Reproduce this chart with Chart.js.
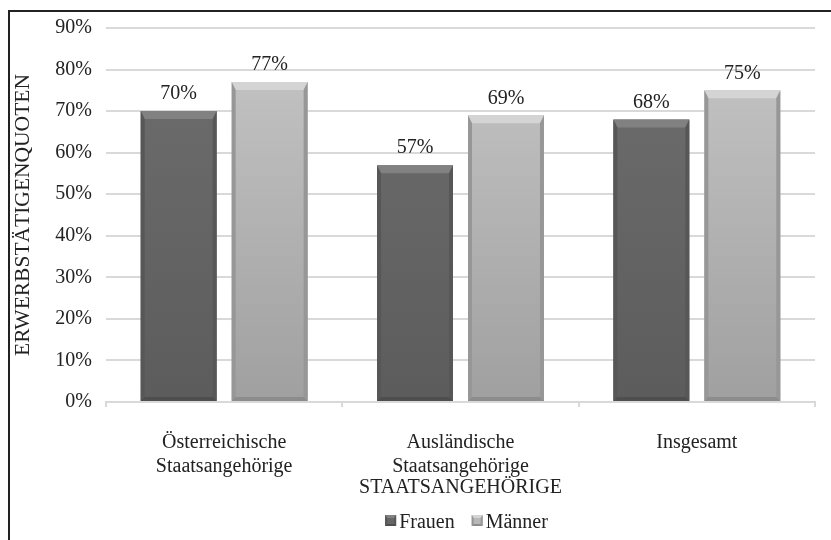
<!DOCTYPE html>
<html>
<head>
<meta charset="utf-8">
<script src="https://cdn.jsdelivr.net/npm/chart.js@4/dist/chart.umd.min.js"></script>
<style>
  html, body { margin: 0; padding: 0; background: #fff; }
  #wrap { width: 831px; height: 540px; position: relative; }
</style>
</head>
<body>
<div id="wrap"><canvas id="chart" width="831" height="540"></canvas></div>
<script>
// Data
const categories = [['Österreichische', 'Staatsangehörige'], ['Ausländische', 'Staatsangehörige'], 'Insgesamt'];
const frauen = [70, 57, 68];
const maenner = [77, 69, 75];
const seriesNames = ['Frauen', 'Männer'];
const yTicks = [0, 10, 20, 30, 40, 50, 60, 70, 80, 90];

const FONT = '"Liberation Serif", "DejaVu Serif", serif';
const FS = 20;

// bevel shades per series: face, top, side, bottom
const shades = [
    { face: '#666666', top: '#818181', side: '#575757', bottom: '#4e4e4e' },
    { face: '#b8b8b8', top: '#d4d4d4', side: '#979797', bottom: '#8c8c8c' }
];

// outer frame (top and left only)
const framePlugin = {
    id: 'frame',
    afterDraw(chart) {
        const ctx = chart.ctx;
        ctx.save();
        ctx.strokeStyle = '#222';
        ctx.lineWidth = 2;
        ctx.beginPath();
        ctx.moveTo(9, 540);
        ctx.lineTo(9, 11);
        ctx.lineTo(831, 11);
        ctx.stroke();
        ctx.restore();
    }
};

function bevelBox(ctx, l, t, r, b, bv, sd, s) {
    ctx.fillStyle = s.top;
    ctx.beginPath();
    ctx.moveTo(l, t); ctx.lineTo(r, t); ctx.lineTo(r - sd, t + bv); ctx.lineTo(l + sd, t + bv);
    ctx.closePath(); ctx.fill();
    ctx.fillStyle = s.side;
    ctx.beginPath();
    ctx.moveTo(l, t); ctx.lineTo(l + sd, t + bv); ctx.lineTo(l + sd, b - sd); ctx.lineTo(l, b);
    ctx.closePath(); ctx.fill();
    ctx.beginPath();
    ctx.moveTo(r, t); ctx.lineTo(r - sd, t + bv); ctx.lineTo(r - sd, b - sd); ctx.lineTo(r, b);
    ctx.closePath(); ctx.fill();
    ctx.fillStyle = s.bottom;
    ctx.beginPath();
    ctx.moveTo(l, b); ctx.lineTo(r, b); ctx.lineTo(r - sd, b - sd); ctx.lineTo(l + sd, b - sd);
    ctx.closePath(); ctx.fill();
}

// bevel look on the bars
const bevelPlugin = {
    id: 'bevel',
    afterDatasetsDraw(chart) {
        const ctx = chart.ctx;
        chart.data.datasets.forEach((ds, di) => {
            chart.getDatasetMeta(di).data.forEach(bar => {
                ctx.save();
                bevelBox(ctx, bar.x - bar.width / 2, bar.y, bar.x + bar.width / 2, bar.base, 8, 4, shades[di]);
                ctx.restore();
            });
        });
    }
};

// value labels above bars
const valueLabels = {
    id: 'valueLabels',
    afterDatasetsDraw(chart) {
        const ctx = chart.ctx;
        ctx.save();
        ctx.font = FS + 'px ' + FONT;
        ctx.fillStyle = '#222';
        ctx.textAlign = 'center';
        ctx.textBaseline = 'bottom';
        chart.data.datasets.forEach((ds, di) => {
            chart.getDatasetMeta(di).data.forEach((bar, i) => {
                ctx.fillText(ds.data[i] + '%', bar.x, bar.y - 7);
            });
        });
        ctx.restore();
    }
};

// legend drawn by hand so box/text spacing matches
const legendPlugin = {
    id: 'customLegend',
    afterDraw(chart) {
        const ctx = chart.ctx;
        const area = chart.chartArea;
        ctx.save();
        ctx.font = FS + 'px ' + FONT;
        ctx.textBaseline = 'middle';
        ctx.textAlign = 'left';
        const box = 11, gap = 3, itemGap = 17;
        const items = chart.data.datasets.map(ds => ({ label: ds.label, w: box + gap + ctx.measureText(ds.label).width }));
        const total = items.reduce((s, it) => s + it.w, 0) + itemGap * (items.length - 1);
        let x = (area.left + area.right) / 2 + 6 - total / 2;
        const y = 523;
        items.forEach((it, i) => {
            const s = shades[i];
            ctx.fillStyle = s.face;
            ctx.fillRect(x, y - 8, box, box);
            bevelBox(ctx, x, y - 8, x + box, y - 8 + box, 3, 2, s);
            ctx.fillStyle = '#222';
            ctx.fillText(it.label, x + box + gap, y);
            x += it.w + itemGap;
        });
        ctx.restore();
    }
};

function barFill(light, dark) {
    return function(context) {
        const chart = context.chart;
        const area = chart.chartArea;
        if (!area) return light;
        const g = chart.ctx.createLinearGradient(0, area.top, 0, area.bottom);
        g.addColorStop(0, light);
        g.addColorStop(1, dark);
        return g;
    };
}

const ctx = document.getElementById('chart').getContext('2d');
new Chart(ctx, {
    type: 'bar',
    data: {
        labels: categories,
        datasets: [{
            label: seriesNames[0],
            data: frauen,
            backgroundColor: barFill('#6e6e6e', '#5c5c5c'),
            borderWidth: 0
        }, {
            label: seriesNames[1],
            data: maenner,
            backgroundColor: barFill('#c6c6c6', '#a0a0a0'),
            borderWidth: 0
        }]
    },
    options: {
        responsive: false,
        animation: false,
        categoryPercentage: 0.77,
        barPercentage: 0.835,
        layout: { padding: { top: 28, right: 16, left: 0, bottom: 36 } },
        plugins: {
            legend: { display: false },
            tooltip: { enabled: false }
        },
        scales: {
            x: {
                grid: { display: true, drawOnChartArea: false, offset: true, color: '#d9d9d9', tickLength: 5, lineWidth: 2 },
                border: { color: '#d9d9d9', width: 2 },
                ticks: { font: { family: FONT, size: FS }, color: '#222', padding: 24, maxRotation: 0 },
                title: { display: true, text: 'STAATSANGEHÖRIGE', font: { family: FONT, size: FS }, color: '#222', padding: { top: 4, bottom: 4 } },
                afterFit(scale) { scale.height = 102; }
            },
            y: {
                min: 0,
                max: 90,
                afterBuildTicks(scale) { scale.ticks = yTicks.map(v => ({ value: v })); },
                grid: { color: '#d9d9d9', lineWidth: 2, drawTicks: false },
                border: { display: false },
                ticks: {
                    font: { family: FONT, size: FS },
                    color: '#222',
                    padding: 14,
                    callback: v => v + '%'
                },
                title: { display: true, text: 'ERWERBSTÄTIGENQUOTEN', font: { family: FONT, size: 21.5 }, color: '#222', padding: { top: 10, bottom: 0 } },
                afterFit(scale) { scale.width = 106; }
            }
        }
    },
    plugins: [framePlugin, bevelPlugin, valueLabels, legendPlugin]
});
</script>
</body>
</html>
